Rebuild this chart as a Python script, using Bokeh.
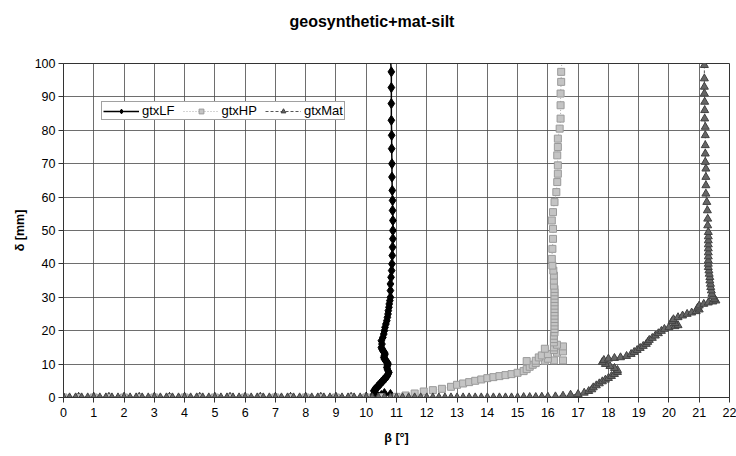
from bokeh.plotting import figure
from bokeh.models import Range1d, Legend, LegendItem, FixedTicker, Title
from bokeh.embed import file_html
from bokeh.resources import INLINE

title_text = "geosynthetic+mat-silt"
x_label = "β [°]"
y_label = "δ [mm]"
x_ticks = list(range(0, 23))
y_ticks = list(range(0, 101, 10))
series_names = ["gtxLF", "gtxHP", "gtxMat"]

# gtxLF (beta [deg], delta [mm])
lf_points = [
    (0.0, 0.0), (0.5, 0.0), (1.0, 0.0), (1.5, 0.0), (2.0, 0.0), (2.5, 0.0), (3.0, 0.0),
    (3.5, 0.0), (4.0, 0.0), (4.5, 0.0), (5.0, 0.0), (5.5, 0.0), (6.0, 0.0), (6.5, 0.0),
    (7.0, 0.0), (7.5, 0.0), (8.0, 0.0), (8.5, 0.0), (9.0, 0.0), (9.5, 0.0), (10.0, 0.1),
    (10.2, 0.3), (10.5, 0.6), (10.8, 0.9), (10.6, 1.2), (10.3, 1.5), (10.25, 2.0), (10.3, 2.5),
    (10.35, 3.0), (10.4, 3.5), (10.45, 4.0), (10.5, 4.5), (10.55, 5.0), (10.6, 5.5), (10.65, 6.0),
    (10.7, 6.5), (10.72, 7.0), (10.75, 7.5), (10.72, 8.0), (10.7, 8.5), (10.68, 9.0), (10.7, 9.5),
    (10.72, 10.0), (10.7, 10.5), (10.65, 11.0), (10.6, 11.5), (10.58, 12.0), (10.6, 12.5),
    (10.62, 13.0), (10.6, 13.5), (10.55, 14.0), (10.52, 14.5), (10.5, 15.0), (10.52, 16.0),
    (10.5, 17.0), (10.55, 18.0), (10.58, 19.0), (10.6, 20.0), (10.62, 21.0), (10.65, 22.0),
    (10.68, 23.0), (10.7, 24.0), (10.72, 25.0), (10.73, 26.0), (10.75, 27.0), (10.76, 28.0),
    (10.78, 29.0), (10.8, 30.0), (10.8, 32.0), (10.8, 34.0), (10.82, 36.0), (10.84, 38.0),
    (10.85, 40.0), (10.86, 42.5), (10.87, 45.0), (10.88, 47.5), (10.88, 50.0), (10.88, 53.0),
    (10.87, 56.0), (10.87, 59.0), (10.86, 62.0), (10.85, 66.0), (10.85, 70.0), (10.84, 74.5),
    (10.84, 78.5), (10.83, 83.0), (10.83, 88.0), (10.83, 92.8), (10.83, 97.5), (10.8, 101.5),
]

# gtxHP (beta [deg], delta [mm])
hp_points = [
    (0.0, 0.0), (0.5, 0.0), (1.0, 0.0), (1.5, 0.0), (2.0, 0.0), (2.5, 0.0), (3.0, 0.0),
    (3.5, 0.0), (4.0, 0.0), (4.5, 0.0), (5.0, 0.0), (5.5, 0.0), (6.0, 0.0), (6.5, 0.0),
    (7.0, 0.0), (7.5, 0.0), (8.0, 0.0), (8.5, 0.0), (9.0, 0.0), (9.5, 0.0), (10.0, 0.0),
    (10.5, 0.1), (11.0, 0.2), (11.3, 0.6), (11.6, 1.2), (11.9, 1.8), (12.2, 2.2), (12.5, 2.6),
    (12.8, 3.2), (13.0, 3.8), (13.2, 4.2), (13.4, 4.6), (13.6, 5.0), (13.8, 5.4), (14.0, 5.8),
    (14.2, 6.1), (14.4, 6.4), (14.6, 6.7), (14.8, 7.0), (15.0, 7.4), (15.2, 7.9), (15.3, 8.5),
    (15.4, 9.2), (15.5, 9.8), (15.6, 10.3), (15.3, 10.9), (15.6, 11.0), (15.9, 11.0),
    (16.2, 11.1), (16.5, 11.1), (16.0, 11.6), (15.7, 12.0), (15.8, 12.6), (16.0, 13.0),
    (16.3, 13.4), (16.5, 13.8), (16.2, 14.2), (15.9, 14.6), (16.2, 15.0), (16.5, 15.3),
    (16.3, 15.8), (16.2, 16.5), (16.2, 17.5), (16.2, 18.5), (16.22, 19.5), (16.22, 20.5),
    (16.22, 21.5), (16.22, 22.5), (16.22, 23.5), (16.22, 24.5), (16.22, 25.5), (16.22, 26.5),
    (16.22, 27.5), (16.22, 28.5), (16.22, 29.5), (16.22, 30.5), (16.22, 31.5), (16.22, 32.5),
    (16.2, 33.5), (16.2, 35.0), (16.2, 36.5), (16.18, 38.0), (16.15, 39.5), (16.13, 41.5),
    (16.15, 44.5), (16.17, 47.5), (16.17, 50.5), (16.13, 53.0), (16.17, 55.5), (16.22, 58.5),
    (16.28, 61.5), (16.31, 64.5), (16.33, 67.0), (16.33, 69.5), (16.31, 72.5), (16.33, 75.0),
    (16.33, 77.5), (16.39, 80.5), (16.42, 83.5), (16.42, 87.5), (16.42, 91.0), (16.44, 94.5),
    (16.44, 97.5), (16.47, 101.5),
]

# gtxMat (beta [deg], delta [mm])
mat_points = [
    (0.0, 0.0), (0.2, 0.0), (0.4, 0.0), (0.6, 0.0), (0.8, 0.0), (1.0, 0.0), (1.2, 0.0),
    (1.4, 0.0), (1.6, 0.0), (1.8, 0.0), (2.0, 0.0), (2.2, 0.0), (2.4, 0.0), (2.6, 0.0),
    (2.8, 0.0), (3.0, 0.0), (3.2, 0.0), (3.4, 0.0), (3.6, 0.0), (3.8, 0.0), (4.0, 0.0),
    (4.2, 0.0), (4.4, 0.0), (4.6, 0.0), (4.8, 0.0), (5.0, 0.0), (5.2, 0.0), (5.4, 0.0),
    (5.6, 0.0), (5.8, 0.0), (6.0, 0.0), (6.2, 0.0), (6.4, 0.0), (6.6, 0.0), (6.8, 0.0),
    (7.0, 0.0), (7.2, 0.0), (7.4, 0.0), (7.6, 0.0), (7.8, 0.0), (8.0, 0.0), (8.2, 0.0),
    (8.4, 0.0), (8.6, 0.0), (8.8, 0.0), (9.0, 0.0), (9.2, 0.0), (9.4, 0.0), (9.6, 0.0),
    (9.8, 0.0), (10.0, 0.0), (10.2, 0.0), (10.4, 0.0), (10.6, 0.0), (10.8, 0.0), (11.0, 0.0),
    (11.2, 0.0), (11.4, 0.0), (11.6, 0.0), (11.8, 0.0), (12.0, 0.0), (12.2, 0.0), (12.4, 0.0),
    (12.6, 0.0), (12.8, 0.0), (13.0, 0.0), (13.2, 0.0), (13.4, 0.0), (13.6, 0.0), (13.8, 0.0),
    (14.0, 0.0), (14.2, 0.0), (14.4, 0.0), (14.6, 0.0), (14.8, 0.0), (15.0, 0.0), (15.2, 0.1),
    (15.4, 0.1), (15.6, 0.1), (15.8, 0.2), (16.0, 0.2), (16.25, 0.3),
    (16.5, 0.5), (16.75, 0.8), (17.0, 1.0), (17.2, 1.4), (17.35, 1.9), (17.45, 2.4),
    (17.5, 3.0), (17.6, 3.6), (17.7, 4.2), (17.8, 4.8), (17.9, 5.3), (18.0, 5.8), (18.1, 6.4),
    (18.2, 7.0), (18.3, 7.6), (18.3, 8.2), (18.2, 8.8), (18.05, 9.4), (17.9, 10.0),
    (17.8, 10.6), (17.85, 11.2), (18.0, 11.6), (18.2, 11.8), (18.4, 12.0), (18.6, 12.4),
    (18.75, 13.0), (18.85, 13.6), (18.95, 14.2), (19.05, 14.8), (19.15, 15.4), (19.25, 16.0),
    (19.3, 16.6), (19.35, 17.2), (19.45, 17.8), (19.55, 18.5), (19.65, 19.2), (19.75, 19.9),
    (19.85, 20.5), (20.0, 21.0), (20.2, 21.3), (20.3, 21.6), (20.2, 22.2), (20.1, 22.8),
    (20.15, 23.4), (20.3, 24.0), (20.45, 24.5), (20.6, 25.0), (20.75, 25.4), (20.9, 25.8),
    (21.0, 26.3), (20.95, 26.9), (21.0, 27.5), (21.15, 28.0), (21.3, 28.4), (21.45, 28.7),
    (21.55, 29.0), (21.5, 29.5), (21.45, 30.2), (21.42, 31.0), (21.4, 32.0), (21.38, 33.0),
    (21.37, 34.0), (21.35, 35.0), (21.35, 36.0), (21.33, 37.0), (21.32, 38.0), (21.3, 39.0),
    (21.3, 40.0), (21.3, 41.0), (21.3, 42.2), (21.3, 43.4), (21.3, 44.6), (21.3, 45.8),
    (21.3, 47.0), (21.3, 48.2), (21.3, 49.5), (21.28, 51.5), (21.28, 53.5), (21.27, 56.0),
    (21.25, 58.5), (21.22, 61.0), (21.22, 63.5), (21.22, 66.0), (21.22, 68.5), (21.2, 70.5),
    (21.2, 73.0), (21.2, 75.5), (21.2, 78.5), (21.2, 81.0), (21.18, 83.5), (21.18, 86.0),
    (21.18, 88.5), (21.17, 91.0), (21.17, 93.0), (21.17, 95.5), (21.17, 99.5),
]

FONT = "Liberation Sans"

p = figure(width=736, height=456, output_backend="svg", toolbar_location=None,
           title_location=None,
           x_range=Range1d(0, 22), y_range=Range1d(0, 100),
           min_border_left=63, min_border_right=7, min_border_top=63, min_border_bottom=59,
           background_fill_color="white", border_fill_color="white")

# spacer between frame and title (first in "above" = nearest the frame)
spacer = Title(text=" ", text_font_size="2px", standoff=30)
p.add_layout(spacer, "above")

chart_title = Title(text=title_text, align="left", offset=226, standoff=0,
                    text_font=FONT, text_font_size="16px", text_font_style="bold",
                    text_color="black")
p.add_layout(chart_title, "above")

for ax in (p.xaxis[0], p.yaxis[0]):
    ax.axis_line_color = "#333333"
    ax.major_tick_line_color = "#333333"
    ax.major_tick_out = 5
    ax.major_tick_in = 0
    ax.minor_tick_line_color = None
    ax.major_label_text_font = FONT
    ax.major_label_text_font_size = "12.5px"
    ax.major_label_text_color = "black"
    ax.axis_label_text_font = FONT
    ax.axis_label_text_font_size = "12.5px"
    ax.axis_label_text_font_style = "bold"
    ax.axis_label_text_color = "black"

p.xaxis.ticker = FixedTicker(ticks=x_ticks)
p.yaxis.ticker = FixedTicker(ticks=y_ticks)
p.xaxis.axis_label = x_label
p.yaxis.axis_label = y_label
p.xaxis.major_label_standoff = 5
p.yaxis.major_label_standoff = 3
p.xaxis.axis_label_standoff = 11
p.yaxis.axis_label_standoff = 5

p.xgrid.ticker = FixedTicker(ticks=x_ticks)
p.ygrid.ticker = FixedTicker(ticks=y_ticks)
p.grid.grid_line_color = "#4a4a4a"
p.grid.grid_line_width = 1
p.grid.grid_line_alpha = 0.8
p.outline_line_color = "#333333"
p.outline_line_width = 1

lf_x = [a for a, b in lf_points]
lf_y = [b for a, b in lf_points]
hp_x = [a for a, b in hp_points]
hp_y = [b for a, b in hp_points]
mat_x = [a for a, b in mat_points]
mat_y = [b for a, b in mat_points]

lf_line = p.line(lf_x, lf_y, line_color="black", line_width=1.5)
lf_mark = p.scatter(lf_x, lf_y, marker="diamond", size=10, fill_color="black", line_color="black")

hp_line = p.line(hp_x, hp_y, line_color="#aaaaaa", line_width=1, line_dash="1 2")
hp_mark = p.scatter(hp_x, hp_y, marker="square", size=7, fill_color="#c4c4c4", line_color="#9a9a9a", line_width=1)

mat_line = p.line(mat_x, mat_y, line_color="#555555", line_width=1, line_dash="3 2")
mat_mark = p.scatter(mat_x, mat_y, marker="triangle", size=8, fill_color="#666666", line_color="#404040", line_width=1)

legend = Legend(items=[
    LegendItem(label=series_names[0], renderers=[lf_line, lf_mark]),
    LegendItem(label=series_names[1], renderers=[hp_line, hp_mark]),
    LegendItem(label=series_names[2], renderers=[mat_line, mat_mark]),
], orientation="horizontal", location="top_left")
legend.margin = 38
legend.padding = 1
legend.spacing = 8
legend.glyph_width = 36
legend.glyph_height = 12
legend.label_height = 12
legend.label_standoff = 3
legend.label_text_font = FONT
legend.label_text_font_size = "13px"
legend.label_text_color = "black"
legend.border_line_color = "#444444"
legend.border_line_width = 1
legend.background_fill_color = "white"
legend.background_fill_alpha = 1.0
p.add_layout(legend)

open("out.html", "w").write(file_html(p, INLINE))
